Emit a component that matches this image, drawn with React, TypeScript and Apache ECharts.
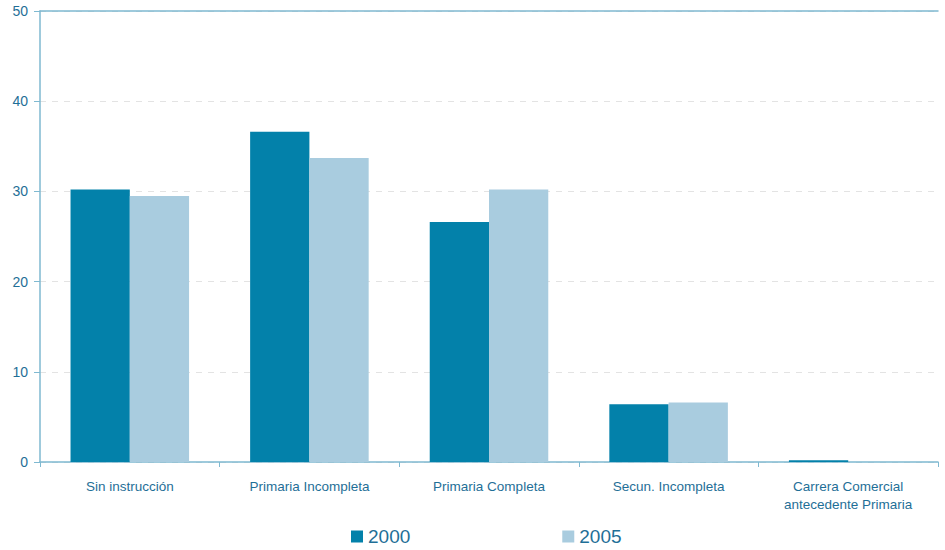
import React, { useEffect, useRef } from "react";
import * as echarts from "echarts";

const categories = [
  "Sin instrucción",
  "Primaria Incompleta",
  "Primaria Completa",
  "Secun. Incompleta",
  "Carrera Comercial\nantecedente Primaria",
];
const values2000 = [30.2, 36.6, 26.6, 6.4, 0.2];
const values2005 = [29.5, 33.7, 30.2, 6.6, 0];
const yTicks = { min: 0, max: 50, interval: 10 };

export default function App() {
  const ref = useRef<HTMLDivElement>(null);
  useEffect(() => {
    const chart = echarts.init(ref.current!, undefined, { renderer: "svg" });
    const axisColor = "#7fb9d1";
    const textColor = "#1f6f97";
    chart.setOption({
      animation: false,
      grid: { left: 40, right: 7, top: 11, bottom: 88 },
      legend: {
        left: 346,
        top: 522,
        itemWidth: 12,
        itemHeight: 12,
        itemGap: 152,
        icon: "rect",
        textStyle: {
          color: textColor,
          fontSize: 19,
          lineHeight: 19,
          fontFamily: "Liberation Sans, Arial, sans-serif",
        },
        data: ["2000", "2005"],
      },
      xAxis: [
        {
          type: "category",
          data: categories,
          axisLine: { lineStyle: { color: axisColor, width: 1.5 } },
          axisTick: { show: true, length: 5, lineStyle: { color: axisColor } },
          axisLabel: {
            color: textColor,
            fontSize: 13.5,
            lineHeight: 18,
            margin: 15,
            fontFamily: "Liberation Sans, Arial, sans-serif",
          },
        },
        {
          type: "category",
          position: "top",
          data: categories,
          axisLine: { show: true, lineStyle: { color: axisColor, width: 1.5 } },
          axisTick: { show: false },
          axisLabel: { show: false },
        },
      ],
      yAxis: {
        type: "value",
        min: yTicks.min,
        max: yTicks.max,
        interval: yTicks.interval,
        axisLine: { show: true, lineStyle: { color: axisColor, width: 1.5 } },
        axisTick: { show: true, length: 6, lineStyle: { color: axisColor } },
        axisLabel: {
          color: textColor,
          fontSize: 14,
          margin: 12,
          fontFamily: "Liberation Sans, Arial, sans-serif",
        },
        splitLine: { show: true, lineStyle: { color: "#e3e3e3", type: [6, 6] } },
      },
      series: [
        {
          name: "2000",
          type: "bar",
          data: values2000,
          barWidth: "33%",
          barGap: "0%",
          itemStyle: { color: "#0381aa" },
        },
        {
          name: "2005",
          type: "bar",
          data: values2005,
          barWidth: "33%",
          barGap: "0%",
          itemStyle: { color: "#a9ccdf" },
        },
      ],
    });
    return () => chart.dispose();
  }, []);
  return <div ref={ref} style={{ width: 945, height: 550, position: "absolute", left: 0, top: 0 }} />;
}
